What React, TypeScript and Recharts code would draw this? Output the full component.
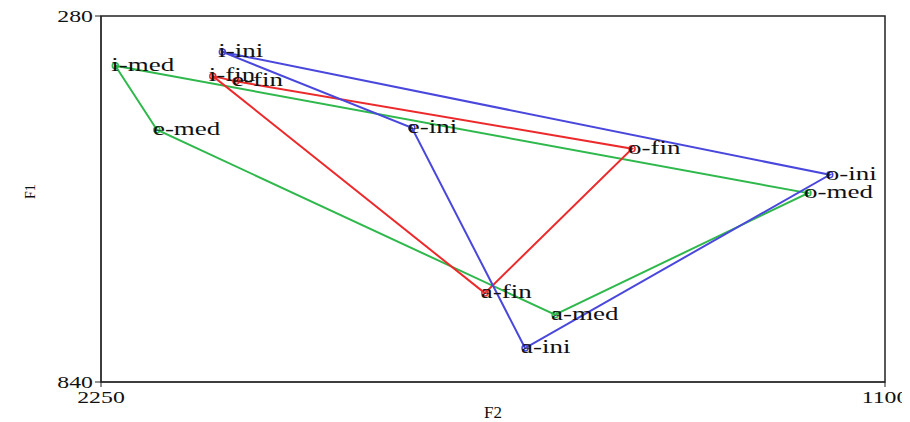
import React from 'react';
import { ScatterChart, Scatter, XAxis, YAxis, ReferenceArea, Label } from 'recharts';

// Formant values (Hz), listed in polygon drawing order
const iniLabels = ['i-ini', 'e-ini', 'a-ini', 'o-ini'];
const iniF2 = [2072, 1794, 1628, 1181];
const iniF1 = [335, 451, 788, 523];

const medLabels = ['i-med', 'e-med', 'a-med', 'o-med'];
const medF2 = [2229, 2168, 1584, 1213];
const medF1 = [356, 454, 737, 551];

const finLabels = ['i-fin', 'e-fin', 'o-fin', 'a-fin'];
const finF2 = [2086, 2052, 1471, 1687];
const finF1 = [372, 380, 483, 704];

const xTicks = [2250, 1100];
const yTicks = [280, 840];

const FONT = '"Liberation Serif", "DejaVu Serif", serif';

const build = (labels: string[], f2: number[], f1: number[]) =>
  labels.map((label, i) => ({ x: f2[i], y: f1[i], label }));

const iniPts = build(iniLabels, iniF2, iniF1);
const medPts = build(medLabels, medF2, medF1);
const finPts = build(finLabels, finF2, finF1);
const close = (pts: any[]) => [...pts, pts[0]];

const BLUE = '#4a48dc';
const GREEN = '#2fb84c';
const RED = '#ec2a2c';

const NoShape = () => <g />;

const makeMarker = (color: string) => (props: any) => {
  const { cx, cy, payload } = props;
  return (
    <g>
      <circle cx={cx} cy={cy} r={3} fill="none" stroke={color} strokeWidth={1.5} />
      <text
        transform={`translate(${cx - 4},${cy + 5}) scale(1.5,1)`}
        fontFamily={FONT}
        fontSize={18}
        fill="#111"
      >
        {payload.label}
      </text>
    </g>
  );
};

const YTick = (props: any) => {
  const { x, y, payload } = props;
  return (
    <g transform={`translate(${x},${y})`}>
      <text transform="scale(1.4,1)" textAnchor="end" dy="0.35em" fontFamily={FONT} fontSize={17} fill="#111">
        {payload.value}
      </text>
    </g>
  );
};

const XTick = (props: any) => {
  const { x, y, payload } = props;
  return (
    <g transform={`translate(${x},${y})`}>
      <text transform="scale(1.4,1)" textAnchor="middle" dy="0.85em" fontFamily={FONT} fontSize={17} fill="#111">
        {payload.value}
      </text>
    </g>
  );
};

export default function App() {
  return (
    <ScatterChart width={902} height={414} margin={{ top: 8, right: 25, left: 0, bottom: 0 }}>
      <XAxis
        type="number"
        dataKey="x"
        domain={[1100, 2250]}
        reversed
        ticks={xTicks}
        tick={<XTick />}
        tickSize={5}
        height={40}
        stroke="#222"
        interval={0}
      >
        <Label value="F2" position="insideBottom" offset={4} fontFamily={FONT} fontSize={17} fill="#111" />
      </XAxis>
      <YAxis
        type="number"
        dataKey="y"
        domain={[280, 840]}
        reversed
        ticks={yTicks}
        tick={<YTick />}
        tickSize={6}
        width={93}
        stroke="#222"
        interval={0}
      >
        <Label value="F1" angle={-90} position="insideLeft" offset={22} fontFamily={FONT} fontSize={14} fill="#111" />
      </YAxis>
      <ReferenceArea x1={1100} x2={2250} y1={280} y2={840} fill="none" stroke="#222" strokeWidth={1.5} />
      <Scatter data={close(medPts)} line={{ stroke: GREEN, strokeWidth: 2 }} shape={NoShape} isAnimationActive={false} />
      <Scatter data={close(finPts)} line={{ stroke: RED, strokeWidth: 2 }} shape={NoShape} isAnimationActive={false} />
      <Scatter data={close(iniPts)} line={{ stroke: BLUE, strokeWidth: 2 }} shape={NoShape} isAnimationActive={false} />
      <Scatter data={medPts} shape={makeMarker(GREEN)} isAnimationActive={false} />
      <Scatter data={finPts} shape={makeMarker(RED)} isAnimationActive={false} />
      <Scatter data={iniPts} shape={makeMarker(BLUE)} isAnimationActive={false} />
    </ScatterChart>
  );
}
